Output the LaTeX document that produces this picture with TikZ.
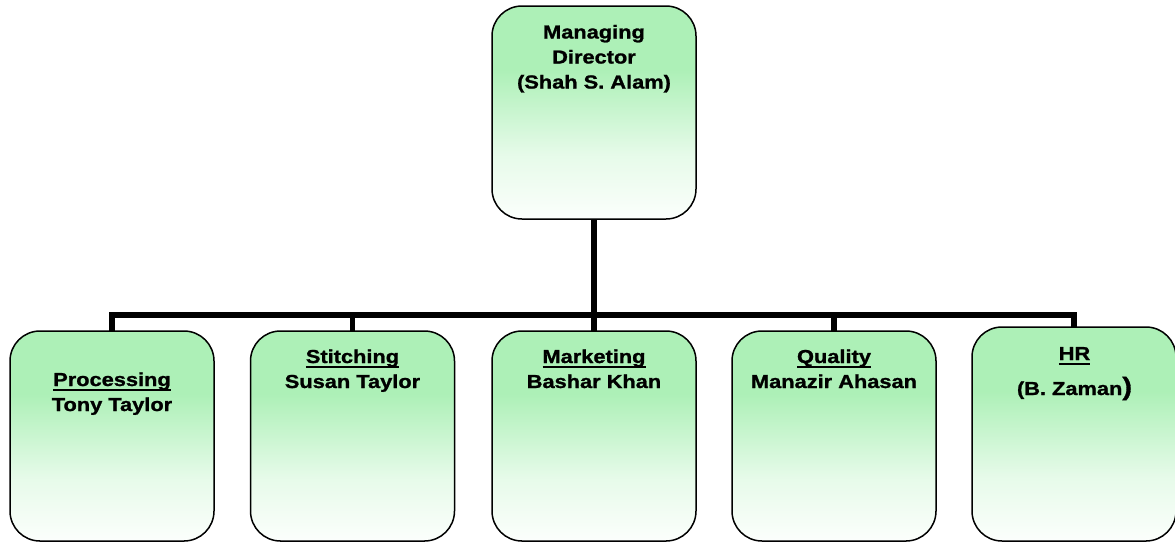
\documentclass[tikz,border=0pt]{standalone}
\usepackage{fontspec}
\setmainfont{Liberation Sans}[FakeStretch=1.16, BoldFeatures={FakeBold=1.2}]
\definecolor{gtop}{RGB}{173,240,183}
\newsavebox\ulbox
\newcommand\ulx[1]{\sbox\ulbox{#1}\rlap{\vrule width\wd\ulbox height -3pt depth 5pt}\usebox\ulbox}
\pgfdeclareverticalshading{gfade}{100bp}{color(0bp)=(white); color(25bp)=(white!96!gtop); color(40bp)=(white!70!gtop); color(60bp)=(gtop); color(100bp)=(gtop)}
\tikzset{
  box/.style={draw=black, line width=1.5pt, rounded corners=30pt, shading=gfade, inner sep=0pt, outer sep=0pt, minimum width=204pt},
  conn/.style={draw=black, line width=5.5pt, line join=miter},
  lbl/.style={anchor=base, inner sep=0pt, font=\fontsize{18.8}{25}\selectfont\bfseries, text=black}
}
\begin{document}
\begin{tikzpicture}[x=1pt,y=-1pt]
\useasboundingbox (0,0) rectangle (1175,542);
% boxes
\node[box, minimum height=213pt] (md) at (594,112.5) {};
\node[box, minimum height=210pt] (b1) at (112,436) {};
\node[box, minimum height=210pt] (b2) at (352.5,436) {};
\node[box, minimum height=210pt] (b3) at (594,436) {};
\node[box, minimum height=210pt] (b4) at (834,436) {};
\node[box, minimum height=214pt] (b5) at (1074,434) {};
\coordinate (bus) at (594,315);
% connectors
\draw[conn] (b1.north) |- (bus) -| (b5.north);
\draw[conn] (md.south) -- (b3.north);
\draw[conn] (b2.north) -- (b2.north |- bus);
\draw[conn] (b4.north) -- (b4.north |- bus);
% texts
\node[lbl] (md1) at (594,38.5) {Managing};
\node[lbl] (md2) at (594,63.5) {Director};
\node[lbl] (md3) at (594,88.5) {(Shah S. Alam)};
\node[lbl] (t1a) at (112,386) {\ulx{Processing}};
\node[lbl] (t1b) at (112,411) {Tony Taylor};
\node[lbl] (t2a) at (352.5,363) {\ulx{Stitching}};
\node[lbl] (t2b) at (352.5,388) {Susan Taylor};
\node[lbl] (t3a) at (594,363) {\ulx{Marketing}};
\node[lbl] (t3b) at (594,388) {Bashar Khan};
\node[lbl] (t4a) at (834,363) {\ulx{Quality}};
\node[lbl] (t4b) at (834,388) {Manazir Ahasan};
\node[lbl] (t5a) at (1074.5,360) {\ulx{HR}};
\node[lbl] (t5b) at (1074.5,395) {(B. Zaman{\fontsize{25}{25}\selectfont)}};
\end{tikzpicture}
\end{document}
